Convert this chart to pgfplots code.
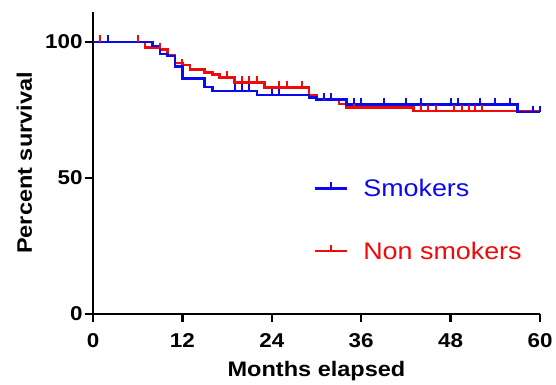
\documentclass[border=0pt]{standalone}
\usepackage{pgfplots}
\pgfplotsset{compat=1.18}
\usepackage{fontspec}
\setmainfont[FakeStretch=1.12]{Liberation Sans}
\definecolor{kmblue}{RGB}{10,10,235}
\definecolor{kmred}{RGB}{240,10,10}
\begin{document}
\begin{tikzpicture}
\begin{axis}[
  at={(0pt,0pt)}, anchor=south west,
  scale only axis,
  width=447pt, height=302pt,
  xmin=0, xmax=60, ymin=0, ymax=111,
  axis lines=left,
  axis line style={line width=2.6pt,-},
  xtick={0,12,24,36,48,60},
  ytick={0,50,100},
  tick style={line width=2.3pt,black},
  tick align=outside,
  major tick length=8pt,
  /pgf/number format/assume math mode=true,
  ticklabel style={font=\bfseries\fontsize{20}{20}\selectfont},
  xticklabel style={yshift=-8pt},
  yticklabel style={xshift=1pt},
  xlabel={\bfseries Months elapsed},
  ylabel={\bfseries Percent survival},
  xlabel style={font=\fontsize{21}{21}\selectfont, at={(axis description cs:0.5,0)}, anchor=base, yshift=-63pt},
  ylabel style={font=\fontsize{21}{21}\selectfont, at={(axis description cs:-0.137,0.5)}, anchor=base},
  legend style={draw=none, fill=none, at={(axis cs:29.2,50.5)}, anchor=north west,
    font=\fontsize{24}{24}\selectfont, row sep=44pt, nodes={inner sep=0pt},
    /tikz/every odd column/.append style={column sep=15pt}},
  legend cell align=left,
  legend image code/.code={
    \draw[#1] (0pt,0pt) -- (32pt,0pt);
    \draw[#1, line width=2pt] (16pt,0pt) -- (16pt,6pt);
  },
  clip=false,
]
% Non smokers (red)
\addplot[kmred, line width=2.6pt, const plot, forget plot] coordinates {
(0,100) (7,98) (9,97.3) (10,95.2) (11,92.2) (12,91.5) (13,89.8) (15,88.8) (16,88) (17,87) (19,85) (23,83.3) (29,80.5) (30,78.7) (33,77.2) (34,75.8) (43,74.6) (60,74.6)
};
\addplot[kmred, only marks, mark=|, mark size=3.2pt, mark options={line width=2pt}, forget plot] coordinates {
(1,101.2) (6,101.2) (9,98.5) (12,92.7) (18,88.2) (20,86.2) (21,86.2) (22,86.2) (25,84.5) (26,84.5) (28,84.5) (31,79.9) (35,77.0) (44,75.8) (45,75.8) (46,75.8) (48.5,75.8) (49.5,75.8) (50.5,75.8) (51.3,75.8) (52.2,75.8)
};
% Smokers (blue)
\addplot[kmblue, line width=2.6pt, const plot, forget plot] coordinates {
(0,100) (8,98.5) (9,95.5) (10,94.8) (11,91) (12,86.5) (15,83.5) (16,82) (22,80.5) (29,79.5) (30,78.9) (34,77) (57,74.2) (60,74.2)
};
\addplot[kmblue, only marks, mark=|, mark size=3.2pt, mark options={line width=2pt}, forget plot] coordinates {
(2,101.2) (19,83.2) (20,83.2) (21,83.2) (24,81.7) (25,81.7) (31,80.1) (32,80.1) (35,78.2) (36,78.2) (39,78.2) (42,78.2) (44,78.2) (48,78.2) (49,78.2) (52,78.2) (54,78.2) (56,78.2) (59,75.4) (60,75.4)
};
\addlegendimage{kmblue, line width=2.6pt}
\addlegendentry{\textcolor{kmblue}{Smokers}}
\addlegendimage{kmred, line width=2.6pt}
\addlegendentry{\textcolor{kmred}{Non smokers}}
\end{axis}
\path[use as bounding box] (-93pt,-66pt) rectangle (463pt,314pt);
\end{tikzpicture}
\end{document}
